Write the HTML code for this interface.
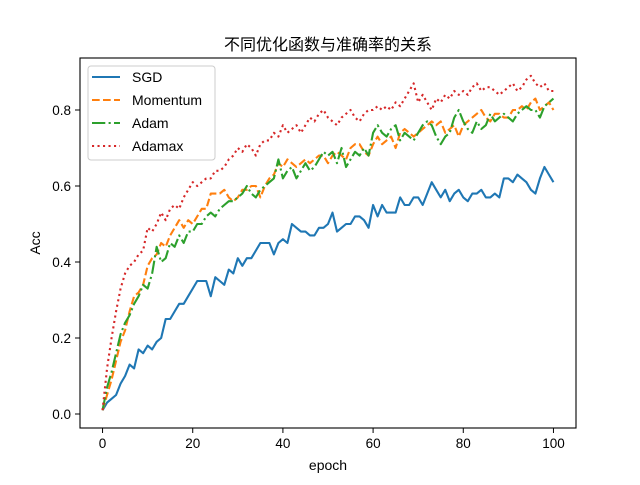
<!DOCTYPE html>
<html><head><meta charset="utf-8"><style>
body{margin:0;background:#fff}
svg text{font-family:"Liberation Sans","Noto Sans CJK SC",sans-serif;fill:#000}
</style></head><body>
<svg id="chart" width="640" height="480" xmlns="http://www.w3.org/2000/svg">
<rect width="640" height="480" fill="#fff"/>
<text x="328" y="50" font-size="16" text-anchor="middle">不同优化函数与准确率的关系</text>
<g id="plot"></g>
<rect x="80" y="58" width="496" height="370" fill="none" stroke="#000" stroke-width="1.1"/>
<g id="ticks"></g>
<text x="328" y="470" font-size="14" text-anchor="middle">epoch</text>
<text x="40" y="243" font-size="14" text-anchor="middle" transform="rotate(-90 40 243)">Acc</text>
<g>
<rect x="88" y="66" width="127" height="94" rx="3" fill="#fff" fill-opacity="0.8" stroke="#ccc"/>
<line x1="92" y1="77" x2="120" y2="77" stroke="#1f77b4" stroke-width="2.1"/>
<text x="132" y="82" font-size="14">SGD</text>
<line x1="92" y1="100" x2="120" y2="100" stroke="#ff7f0e" stroke-width="2.1" stroke-dasharray="7.7,3.3"/>
<text x="132" y="105" font-size="14">Momentum</text>
<line x1="92" y1="123" x2="120" y2="123" stroke="#2ca02c" stroke-width="2.1" stroke-dasharray="13.3,3.3,2.1,3.3"/>
<text x="132" y="128" font-size="14">Adam</text>
<line x1="92" y1="146" x2="120" y2="146" stroke="#d62728" stroke-width="2.1" stroke-dasharray="2.1,3.4"/>
<text x="132" y="151" font-size="14">Adamax</text>
</g>
</svg>
<script>
const sgd=[0.01,0.03,0.04,0.05,0.08,0.10,0.13,0.12,0.17,0.16,0.18,0.17,0.19,0.20,0.25,0.25,0.27,0.29,0.29,0.31,0.33,0.35,0.35,0.35,0.31,0.36,0.35,0.34,0.38,0.37,0.41,0.39,0.41,0.41,0.43,0.45,0.45,0.45,0.42,0.45,0.46,0.45,0.50,0.49,0.48,0.48,0.47,0.47,0.49,0.49,0.50,0.53,0.48,0.49,0.50,0.50,0.52,0.52,0.51,0.49,0.55,0.52,0.55,0.53,0.53,0.53,0.57,0.55,0.55,0.57,0.57,0.55,0.58,0.61,0.59,0.57,0.59,0.56,0.58,0.59,0.57,0.56,0.58,0.58,0.59,0.57,0.57,0.58,0.57,0.62,0.62,0.61,0.63,0.62,0.61,0.59,0.58,0.62,0.65,0.63,0.61];
const momentum=[0.01,0.05,0.09,0.14,0.19,0.22,0.27,0.31,0.32,0.34,0.39,0.41,0.42,0.45,0.44,0.47,0.49,0.51,0.49,0.51,0.50,0.52,0.54,0.54,0.58,0.58,0.58,0.59,0.57,0.56,0.57,0.59,0.59,0.60,0.60,0.57,0.60,0.62,0.63,0.66,0.65,0.67,0.66,0.65,0.66,0.67,0.66,0.67,0.68,0.68,0.66,0.68,0.69,0.68,0.67,0.70,0.71,0.71,0.69,0.68,0.71,0.73,0.71,0.72,0.73,0.70,0.74,0.75,0.74,0.73,0.74,0.75,0.76,0.77,0.76,0.77,0.74,0.75,0.76,0.73,0.76,0.77,0.78,0.79,0.80,0.78,0.77,0.79,0.79,0.78,0.78,0.80,0.80,0.81,0.80,0.82,0.83,0.80,0.81,0.82,0.80];
const adam=[0.01,0.07,0.11,0.16,0.21,0.24,0.26,0.29,0.31,0.34,0.33,0.37,0.44,0.40,0.41,0.45,0.44,0.47,0.45,0.48,0.48,0.50,0.50,0.52,0.53,0.52,0.54,0.55,0.56,0.56,0.57,0.58,0.60,0.58,0.57,0.59,0.60,0.61,0.62,0.67,0.62,0.64,0.65,0.62,0.64,0.66,0.64,0.65,0.67,0.69,0.68,0.69,0.66,0.70,0.65,0.67,0.69,0.68,0.70,0.68,0.74,0.76,0.74,0.73,0.75,0.76,0.72,0.74,0.73,0.72,0.74,0.76,0.77,0.76,0.73,0.71,0.73,0.74,0.78,0.80,0.77,0.75,0.74,0.77,0.75,0.76,0.79,0.77,0.78,0.79,0.78,0.77,0.79,0.80,0.81,0.80,0.80,0.78,0.81,0.82,0.83];
const adamax=[0.01,0.12,0.20,0.27,0.33,0.37,0.39,0.40,0.42,0.43,0.49,0.48,0.50,0.53,0.51,0.54,0.55,0.54,0.57,0.59,0.61,0.60,0.61,0.62,0.62,0.64,0.64,0.65,0.67,0.68,0.70,0.69,0.71,0.70,0.68,0.71,0.72,0.72,0.74,0.73,0.76,0.74,0.75,0.76,0.74,0.76,0.78,0.77,0.79,0.80,0.78,0.77,0.76,0.78,0.79,0.80,0.78,0.77,0.79,0.80,0.80,0.81,0.80,0.81,0.80,0.82,0.81,0.83,0.85,0.87,0.82,0.84,0.82,0.80,0.83,0.82,0.84,0.83,0.85,0.84,0.85,0.84,0.86,0.87,0.85,0.86,0.86,0.85,0.84,0.85,0.86,0.87,0.85,0.86,0.88,0.89,0.87,0.86,0.87,0.85,0.85];
const xTicks=[0,20,40,60,80,100];
const yTicks=[0.0,0.2,0.4,0.6,0.8];
const NS='http://www.w3.org/2000/svg';
function xs(v){return 80+(v+5)*496/110;}
function ys(v){return 414-v*380;}
const plot=document.getElementById('plot');
const series=[[sgd,'#1f77b4','','line-sgd'],[momentum,'#ff7f0e','7.7,3.3','line-momentum'],[adam,'#2ca02c','13.3,3.3,2.1,3.3','line-adam'],[adamax,'#d62728','2.1,3.4','line-adamax']];
series.forEach(s=>{
  const p=document.createElementNS(NS,'path');
  p.setAttribute('d',s[0].map((v,i)=>(i?'L':'M')+xs(i).toFixed(2)+','+ys(v).toFixed(2)).join(''));
  p.setAttribute('fill','none');p.setAttribute('stroke',s[1]);p.setAttribute('stroke-width','2.1');
  p.setAttribute('stroke-linejoin','round');
  if(s[2])p.setAttribute('stroke-dasharray',s[2]);
  
  
  plot.appendChild(p);
});
const tg=document.getElementById('ticks');
xTicks.forEach(t=>{
  const l=document.createElementNS(NS,'line');
  l.setAttribute('x1',xs(t));l.setAttribute('x2',xs(t));l.setAttribute('y1',428);l.setAttribute('y2',433);l.setAttribute('stroke','#000');
  
  
  tg.appendChild(l);
  const tx=document.createElementNS(NS,'text');
  tx.setAttribute('x',xs(t));tx.setAttribute('y',448);tx.setAttribute('font-size','13.5');tx.setAttribute('text-anchor','middle');tx.textContent=t;
  
  
  tg.appendChild(tx);
});
yTicks.forEach(t=>{
  const l=document.createElementNS(NS,'line');
  l.setAttribute('x1',75);l.setAttribute('x2',80);l.setAttribute('y1',ys(t));l.setAttribute('y2',ys(t));l.setAttribute('stroke','#000');
  
  
  tg.appendChild(l);
  const tx=document.createElementNS(NS,'text');
  tx.setAttribute('x',71);tx.setAttribute('y',ys(t)+5);tx.setAttribute('font-size','13.5');tx.setAttribute('text-anchor','end');tx.textContent=t.toFixed(1);
  
  
  tg.appendChild(tx);
});
</script>
</body></html>
